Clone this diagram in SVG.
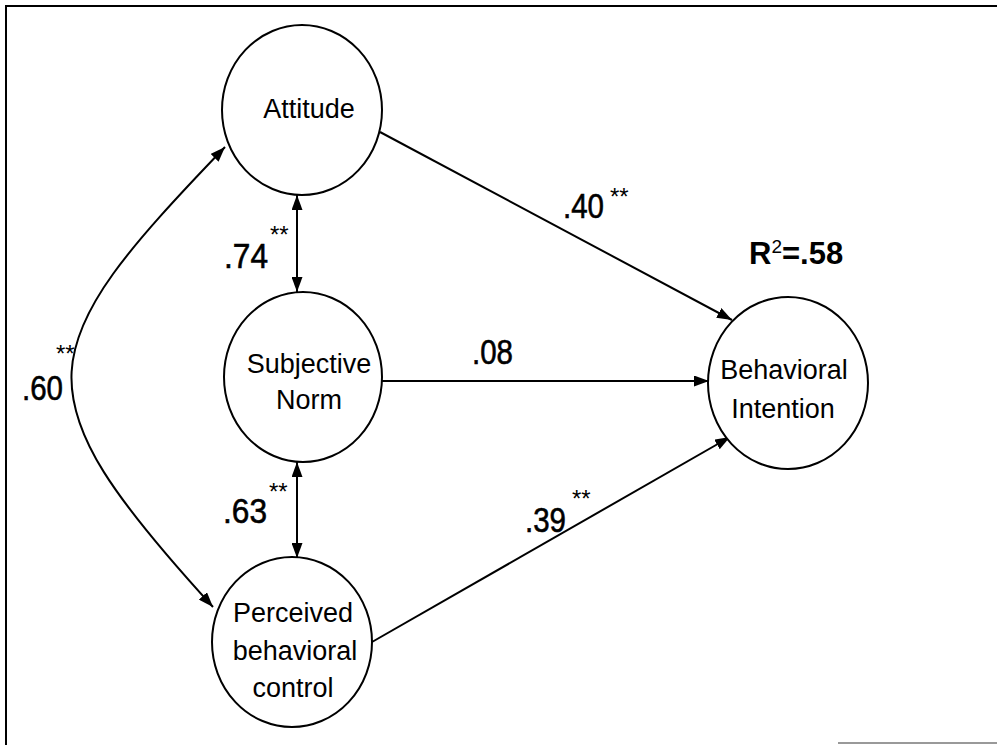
<svg xmlns="http://www.w3.org/2000/svg" width="997" height="745" viewBox="0 0 997 745">
<defs>
<marker id="ah" viewBox="0 0 15 11" refX="15" refY="5.5" markerWidth="15" markerHeight="11" markerUnits="userSpaceOnUse" orient="auto-start-reverse">
<path d="M0,0 L15,5.5 L0,11 z" fill="#000"/>
</marker>
</defs>
<style>
.node ellipse{fill:#fff;stroke:#000;stroke-width:2}
.lbl{font-family:"Liberation Sans",Arial,sans-serif;font-size:27px;fill:#000;text-anchor:middle}
.num{font-family:"Liberation Sans",Arial,sans-serif;font-size:35px;fill:#000;stroke:#000;stroke-width:0.6}
.ast{font-family:"Liberation Sans",Arial,sans-serif;font-size:24px;fill:#000}
.edge{fill:none;stroke:#000;stroke-width:2}
</style>
<rect width="997" height="745" fill="#fff"/>
<g id="frame">
<line x1="5" y1="6" x2="997" y2="6" stroke="#000" stroke-width="2"/>
<line x1="6" y1="6" x2="6" y2="745" stroke="#000" stroke-width="2"/>
<line x1="838" y1="743" x2="997" y2="743" stroke="#777" stroke-width="1.5"/>
</g>
<g id="connectors">
<line class="edge" x1="380" y1="132" x2="732" y2="320" marker-end="url(#ah)"/>
<line class="edge" x1="382" y1="381" x2="709" y2="381" marker-end="url(#ah)"/>
<line class="edge" x1="372" y1="642" x2="730" y2="437" marker-end="url(#ah)"/>
<line class="edge" x1="297" y1="195" x2="297" y2="292" marker-start="url(#ah)" marker-end="url(#ah)"/>
<line class="edge" x1="297" y1="462" x2="297" y2="558" marker-start="url(#ah)" marker-end="url(#ah)"/>
<path class="edge" d="M225,147 C30,350 15,390 213,607" marker-start="url(#ah)" marker-end="url(#ah)"/>
</g>
<g id="attitude" class="node">
<ellipse cx="302" cy="110" rx="80" ry="85"/>
<text class="lbl" x="309" y="118">Attitude</text>
</g>
<g id="subjective-norm" class="node">
<ellipse cx="303" cy="377" rx="79" ry="85"/>
<text class="lbl" x="309" y="373">Subjective</text>
<text class="lbl" x="309" y="409">Norm</text>
</g>
<g id="pbc" class="node">
<ellipse cx="292" cy="642" rx="80" ry="85"/>
<text class="lbl" x="293" y="622">Perceived</text>
<text class="lbl" x="295" y="660">behavioral</text>
<text class="lbl" x="293" y="697">control</text>
</g>
<g id="behavioral-intention" class="node">
<ellipse cx="788" cy="383" rx="80" ry="86"/>
<text class="lbl" x="784" y="379">Behavioral</text>
<text class="lbl" x="783" y="418">Intention</text>
</g>
<g id="labels">
<text class="num" x="224" y="268" textLength="44" lengthAdjust="spacingAndGlyphs">.74</text>
<text class="ast" x="270" y="243">**</text>
<text class="num" x="22" y="400" textLength="41" lengthAdjust="spacingAndGlyphs">.60</text>
<text class="ast" x="56" y="362">**</text>
<text class="num" x="563" y="218" textLength="41" lengthAdjust="spacingAndGlyphs">.40</text>
<text class="ast" x="610" y="205">**</text>
<text class="num" x="472" y="364" textLength="41" lengthAdjust="spacingAndGlyphs">.08</text>
<text class="num" x="223" y="523" textLength="44" lengthAdjust="spacingAndGlyphs">.63</text>
<text class="ast" x="269" y="500">**</text>
<text class="num" x="525" y="532" textLength="41" lengthAdjust="spacingAndGlyphs">.39</text>
<text class="ast" x="572" y="507">**</text>
<text id="r2" font-family="Liberation Sans, Arial, sans-serif" font-size="31" font-weight="bold" x="749" y="264">R<tspan font-size="19" font-weight="normal" dy="-11">2</tspan><tspan dy="11">=.58</tspan></text>
</g>
</svg>
